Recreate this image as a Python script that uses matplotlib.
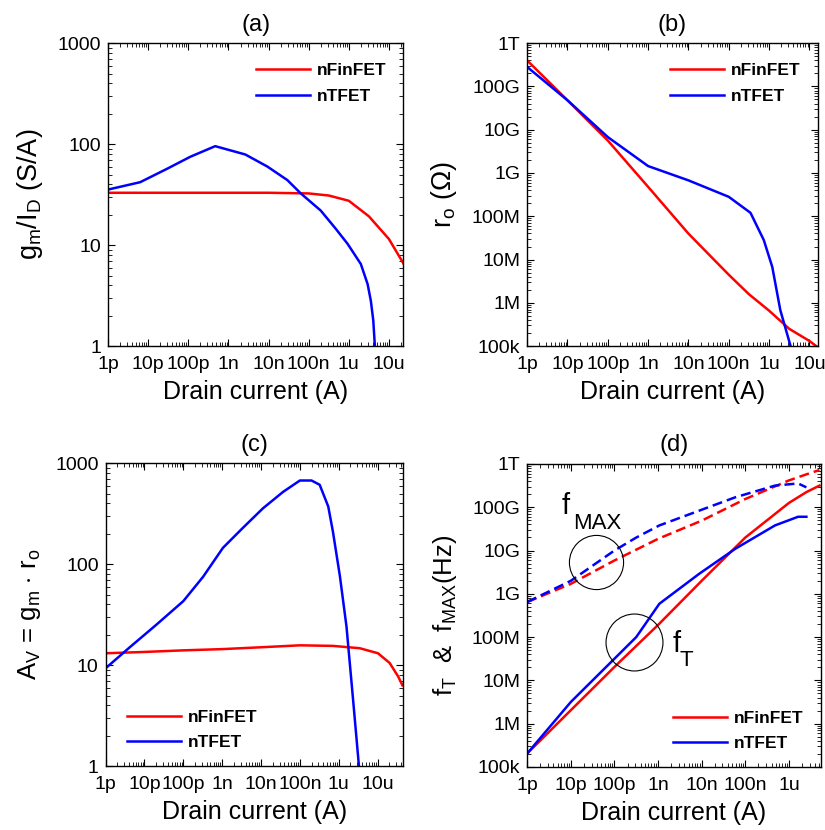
import matplotlib
matplotlib.use('Agg')
import matplotlib.pyplot as plt
import matplotlib.ticker as mticker
import numpy as np

plt.rcParams['font.family'] = ['Liberation Sans', 'DejaVu Sans']
plt.rcParams['mathtext.fontset'] = 'custom'
plt.rcParams['mathtext.rm'] = 'Liberation Sans'
plt.rcParams['mathtext.it'] = 'Liberation Sans'

# ---- data (log10 of drain current in A) ----
# (a) gm/ID (S/A)
a_fin_x = [-12, -10, -8, -7, -6.5, -6.0, -5.5, -5.0, -4.63]
a_fin_y = [33, 33, 33, 32.5, 31, 27.5, 19.3, 11.5, 6.5]
a_tfet_x = [-12, -11.2, -10.53, -9.95, -9.33, -8.58, -8.03, -7.53, -7.2, -6.7,
            -6.33, -6.03, -5.7, -5.53, -5.45, -5.39, -5.35]
a_tfet_y = [35.5, 42, 57, 75, 95.5, 79, 60, 44, 32.6, 22,
            14.6, 10.3, 6.5, 4.1, 2.8, 1.8, 1.0]

# (b) ro (log10 Ohm)
b_fin_x = [-12, -11, -10, -9, -8, -7, -6.5, -6, -5.5, -5, -4.8]
b_fin_y = [11.6, 10.68, 9.75, 8.68, 7.6, 6.65, 6.2, 5.82, 5.4, 5.12, 4.98]
b_tfet_x = [-12, -11, -10, -9, -8, -7, -6.46, -6.13, -5.92, -5.72, -5.45]
b_tfet_y = [11.45, 10.68, 9.83, 9.16, 8.83, 8.45, 8.08, 7.45, 6.83, 5.83, 4.95]

# (c) Av
c_fin_x = [-12, -11, -10, -9, -8.03, -7.0, -6.15, -5.46, -4.99, -4.69, -4.47, -4.36]
c_fin_y = [13.1, 13.5, 14, 14.4, 15, 15.7, 15.5, 14.7, 13.1, 10.5, 7.7, 6.3]
c_tfet_x = [-12, -11.38, -10.7, -10.0, -9.49, -8.98, -8.46, -7.95, -7.43, -7.0,
            -6.70, -6.49, -6.27, -6.15, -5.97, -5.80, -5.63, -5.48]
c_tfet_y = [9.3, 15, 25, 43, 75, 145, 230, 357, 520, 673,
            673, 610, 372, 210, 76, 24, 4.5, 1.0]

# (d) fT and fMAX (log10 Hz)
d_x = [-12, -11, -10, -9, -8, -7, -6, -5.6, -5.3]
d_fin_ft = [5.31, 6.31, 7.31, 8.28, 9.3, 10.3, 11.1, 11.35, 11.5]
d_fin_fmax = [8.81, 9.23, 9.77, 10.27, 10.69, 11.19, 11.62, 11.76, 11.86]
d_tfet_x = [-12, -11, -10, -9.5, -8.97, -8.06, -7.23, -6.32, -5.79, -5.6]
d_tfet_ft = [5.31, 6.5, 7.5, 8.0, 8.77, 9.46, 10.04, 10.58, 10.78, 10.78]
d_tfet_fmax = [8.81, 9.3, 10.0, 10.3, 10.58, 10.92, 11.23, 11.5, 11.55, 11.46]

x_labels = ['1p', '10p', '100p', '1n', '10n', '100n', '1u', '10u']
r_labels = ['100k', '1M', '10M', '100M', '1G', '10G', '100G', '1T']
red, blue = '#ff0000', '#0000ff'
lw = 1.8


def style(ax, xmax, ylog_range, ylabels, xlab_count=8):
    ax.set_xscale('log')
    ax.set_yscale('log')
    ax.set_xlim(1e-12, xmax)
    ax.set_ylim(10.0 ** ylog_range[0], 10.0 ** ylog_range[1])
    ax.xaxis.set_major_locator(mticker.FixedLocator(10.0 ** np.arange(-12, -12 + xlab_count)))
    ax.xaxis.set_major_formatter(mticker.FixedFormatter(x_labels[:xlab_count]))
    ax.yaxis.set_major_locator(mticker.FixedLocator(10.0 ** np.arange(ylog_range[0], ylog_range[1] + 1)))
    ax.yaxis.set_major_formatter(mticker.FixedFormatter(ylabels))
    ax.xaxis.set_minor_locator(mticker.LogLocator(subs=np.arange(2, 10), numticks=30))
    ax.yaxis.set_minor_locator(mticker.LogLocator(subs=np.arange(2, 10), numticks=30))
    ax.xaxis.set_minor_formatter(mticker.NullFormatter())
    ax.yaxis.set_minor_formatter(mticker.NullFormatter())
    ax.tick_params(which='both', direction='in', top=True, right=True, labelsize=14)
    ax.tick_params(axis='x', pad=7)
    ax.tick_params(axis='y', pad=5)
    ax.tick_params(which='major', length=5, width=0.8)
    ax.tick_params(which='minor', length=3, width=0.6)
    for s in ax.spines.values():
        s.set_linewidth(1.0)
    ax.set_xlabel('Drain current (A)', fontsize=18, labelpad=5)


def legend(ax, loc, **kw):
    ax.legend(loc=loc, frameon=False, prop={'weight': 'bold', 'size': 12.5},
              handlelength=3.1, handletextpad=0.4, labelspacing=0.6, **kw)


def sub_text(ax, x, y, main, sub, dx=8):
    # MATLAB-like subscript: large letter, slightly smaller and lower subscript
    ax.text(x, y, main, fontsize=21, va='center')
    ax.annotate(sub, (x, y), xytext=(dx, -12), textcoords='offset points',
                fontsize=16, va='center')


fig = plt.figure(figsize=(8.25, 8.30), dpi=100)
ax_a = fig.add_axes([0.131, 0.583, 0.358, 0.365])
ax_b = fig.add_axes([0.639, 0.583, 0.352, 0.365])
ax_c = fig.add_axes([0.128, 0.077, 0.360, 0.365])
ax_d = fig.add_axes([0.639, 0.076, 0.356, 0.365])

# (a)
ax_a.plot(10.0 ** np.array(a_fin_x), a_fin_y, color=red, lw=lw, label='nFinFET')
ax_a.plot(10.0 ** np.array(a_tfet_x), a_tfet_y, color=blue, lw=lw, label='nTFET')
style(ax_a, 2.3e-5, (0, 3), ['1', '10', '100', '1000'])
ax_a.set_ylabel(r'g$_\mathregular{m}$/I$_\mathregular{D}$ (S/A)', fontsize=19.5, labelpad=9)
ax_a.set_title('(a)', fontsize=17, pad=9)
legend(ax_a, 'upper right', bbox_to_anchor=(0.995, 0.985))

# (b)
ax_b.plot(10.0 ** np.array(b_fin_x), 10.0 ** np.array(b_fin_y), color=red, lw=lw, label='nFinFET')
ax_b.plot(10.0 ** np.array(b_tfet_x), 10.0 ** np.array(b_tfet_y), color=blue, lw=lw, label='nTFET')
style(ax_b, 1.6e-5, (5, 12), r_labels)
ax_b.set_ylabel(r'r$_\mathregular{o}$ ($\Omega$)', fontsize=19.5, labelpad=9)
ax_b.set_title('(b)', fontsize=17, pad=9)
legend(ax_b, 'upper right', bbox_to_anchor=(0.995, 0.985))

# (c)
ax_c.plot(10.0 ** np.array(c_fin_x), c_fin_y, color=red, lw=lw, label='nFinFET')
ax_c.plot(10.0 ** np.array(c_tfet_x), c_tfet_y, color=blue, lw=lw, label='nTFET')
style(ax_c, 4.4e-5, (0, 3), ['1', '10', '100', '1000'])
ax_c.set_ylabel(r'A$_\mathregular{V}$ = g$_\mathregular{m}$ $\cdot$ r$_\mathregular{o}$', fontsize=18.5, labelpad=9)
ax_c.set_title('(c)', fontsize=17, pad=9)
legend(ax_c, 'lower left', bbox_to_anchor=(0.02, 0.0))

# (d)
dx = 10.0 ** np.array(d_x)
dtx = 10.0 ** np.array(d_tfet_x)
ax_d.plot(dx, 10.0 ** np.array(d_fin_ft), color=red, lw=lw, label='nFinFET')
ax_d.plot(dtx, 10.0 ** np.array(d_tfet_ft), color=blue, lw=lw, label='nTFET')
ax_d.plot(dx, 10.0 ** np.array(d_fin_fmax), color=red, lw=lw, ls='--', dashes=(4, 2))
ax_d.plot(dtx, 10.0 ** np.array(d_tfet_fmax), color=blue, lw=lw, ls='--', dashes=(4, 2))
ax_d.plot([10.0 ** -10.43], [10.0 ** 9.73], 'o', ms=39, mfc='none', mec='k', mew=0.8)
ax_d.plot([10.0 ** -9.54], [10.0 ** 7.88], 'o', ms=41, mfc='none', mec='k', mew=0.8)
sub_text(ax_d, 10.0 ** -11.2, 10.0 ** 11.02, 'f', 'MAX')
sub_text(ax_d, 10.0 ** -8.67, 10.0 ** 7.85, 'f', 'T', dx=5)
style(ax_d, 5.4e-6, (5, 12), r_labels, xlab_count=7)
ax_d.set_ylabel(r'f$_\mathregular{T}$  &  f$_\mathregular{MAX}$(Hz)', fontsize=18.5, labelpad=9)
ax_d.set_title('(d)', fontsize=17, pad=9)
legend(ax_d, 'lower right', bbox_to_anchor=(0.995, 0.0))

fig.savefig('out.png', dpi=100)
